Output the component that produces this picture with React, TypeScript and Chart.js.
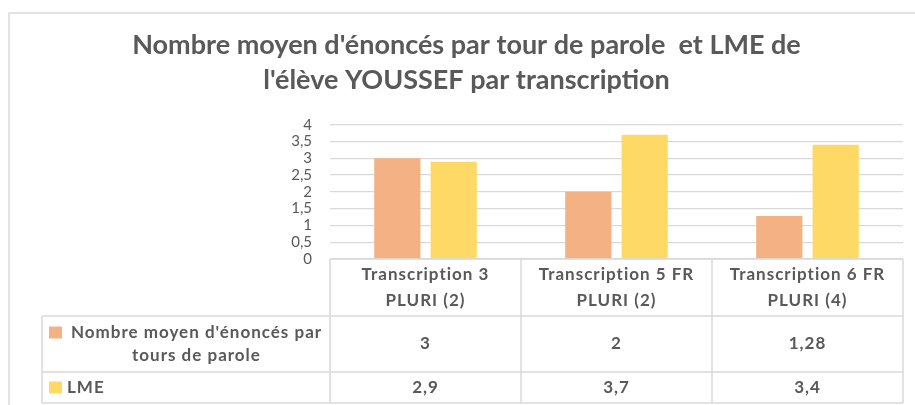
import React, { useEffect, useRef } from 'react';
import { Chart, registerables } from 'chart.js';

Chart.register(...registerables);

// ---------- data ----------
const categoryLines: string[][] = [
  ['Transcription 3', 'PLURI (2)'],
  ['Transcription 5 FR', 'PLURI (2)'],
  ['Transcription 6 FR', 'PLURI (4)'],
];
const categories: string[] = categoryLines.map((l) => l.join(' '));
const seriesNames: string[] = ["Nombre moyen d'énoncés par tours de parole", 'LME'];
const enoncesValues: number[] = [3, 2, 1.28];
const lmeValues: number[] = [2.9, 3.7, 3.4];
const yMin = 0;
const yMax = 4;
const yStep = 0.5;
const titleLines: string[] = [
  "Nombre moyen d'énoncés par tour de parole  et LME de",
  "l'élève YOUSSEF par transcription",
];

// ---------- styles ----------
const FONT = 'Lato';
const TEXT = '#595959';
const GRID = '#d9d9d9';
const COLORS = ['#F4B183', '#FFD966'];

const fmt = (v: number) => String(v).replace('.', ',');

const frameAndTablePlugin = {
  id: 'frameAndTable',
  beforeDraw(chart: any) {
    const ctx = chart.ctx;
    ctx.save();
    ctx.fillStyle = '#ffffff';
    ctx.fillRect(0, 0, chart.width, chart.height);
    ctx.strokeStyle = GRID;
    ctx.lineWidth = 1.5;
    ctx.strokeRect(9, 13, chart.width + 20, chart.height + 20);
    ctx.restore();
  },
  afterDraw(chart: any) {
    const ctx = chart.ctx;
    const area = chart.chartArea;
    const n = categories.length;
    const step = (area.right - area.left) / n;
    const cols: number[] = [];
    for (let i = 0; i <= n; i++) cols.push(area.left + i * step);
    const rTop = area.bottom;
    const r1 = rTop + 57;
    const r2 = r1 + 56;
    const r3 = r2 + 31;
    const tableLeft = 42;
    const rows = [r1, r2, r3];

    ctx.save();
    ctx.strokeStyle = GRID;
    ctx.lineWidth = 1.5;
    const line = (x1: number, y1: number, x2: number, y2: number) => {
      ctx.beginPath();
      ctx.moveTo(x1, y1);
      ctx.lineTo(x2, y2);
      ctx.stroke();
    };
    line(area.left, rTop, area.right, rTop);
    rows.forEach((y) => line(tableLeft, y, area.right, y));
    cols.forEach((x) => line(x, rTop, x, r3));
    line(tableLeft, r1, tableLeft, r3);

    ctx.fillStyle = TEXT;
    ctx.textBaseline = 'middle';
    ctx.textAlign = 'center';
    (ctx as any).letterSpacing = '1px';
    // header
    ctx.font = `bold 17px ${FONT}`;
    categoryLines.forEach((lines, i) => {
      const cx = (cols[i] + cols[i + 1]) / 2;
      const mid = (rTop + r1) / 2;
      const lh = 26;
      lines.forEach((t, j) => {
        ctx.fillText(t, cx, mid + (j - (lines.length - 1) / 2) * lh);
      });
    });
    // rows
    const rowBounds = [
      [r1, r2],
      [r2, r3],
    ];
    chart.data.datasets.forEach((ds: any, d: number) => {
      const [top, bottom] = rowBounds[d];
      const mid = (top + bottom) / 2;
      ctx.font = `bold 17px ${FONT}`;
      ctx.textAlign = 'center';
      ds.data.forEach((v: number, i: number) => {
        ctx.fillText(fmt(v), (cols[i] + cols[i + 1]) / 2, mid);
      });
      // label wrap
      const textLeft = 67;
      const textRight = cols[0] - 4;
      const maxW = textRight - textLeft;
      const words = String(ds.label).split(' ');
      const lines: string[] = [];
      let cur = '';
      words.forEach((w) => {
        const test = cur ? cur + ' ' + w : w;
        if (ctx.measureText(test).width > maxW && cur) {
          lines.push(cur);
          cur = w;
        } else cur = test;
      });
      if (cur) lines.push(cur);
      const lh = 23;
      const firstY = mid - ((lines.length - 1) / 2) * lh;
      lines.forEach((t, j) => {
        if (lines.length === 1) {
          ctx.textAlign = 'left';
          ctx.fillText(t, textLeft, firstY);
        } else {
          ctx.textAlign = 'center';
          ctx.fillText(t, (textLeft + textRight) / 2, firstY + j * lh);
        }
      });
      ctx.fillStyle = COLORS[d];
      ctx.fillRect(49, firstY - 6, 13, 12);
      ctx.fillStyle = TEXT;
    });
    ctx.restore();
  },
};

export default function App() {
  const ref = useRef<HTMLCanvasElement | null>(null);
  useEffect(() => {
    if (!ref.current) return;
    const chart = new Chart(ref.current, {
      type: 'bar',
      data: {
        labels: categories,
        datasets: [
          {
            label: seriesNames[0],
            data: enoncesValues,
            backgroundColor: COLORS[0],
            categoryPercentage: 0.59,
            barPercentage: 0.82,
          },
          {
            label: seriesNames[1],
            data: lmeValues,
            backgroundColor: COLORS[1],
            categoryPercentage: 0.59,
            barPercentage: 0.82,
          },
        ],
      },
      options: {
        responsive: false,
        animation: false,
        layout: { padding: { left: 30, right: 12, top: 0, bottom: 146 } },
        plugins: {
          legend: { display: false },
          tooltip: { enabled: false },
          title: {
            display: true,
            text: titleLines,
            color: TEXT,
            font: { family: FONT, size: 27, weight: 'bold', lineHeight: 1.3 },
            padding: { top: 27.5, bottom: 27 },
          },
        },
        scales: {
          x: { display: false },
          y: {
            min: yMin,
            max: yMax,
            border: { display: false },
            grid: { color: GRID, lineWidth: 1.3, drawTicks: false },
            ticks: {
              stepSize: yStep,
              autoSkip: false,
              padding: 18,
              color: TEXT,
              font: { family: FONT, size: 15, lineHeight: 1 },
              callback: (v: any) => fmt(Number(v)),
            },
            afterFit: (s: any) => {
              s.width = 300;
            },
          },
        },
      },
      plugins: [frameAndTablePlugin],
    });
    return () => chart.destroy();
  }, []);
  return (
    <div style={{ position: 'fixed', left: 0, top: 0, width: 915, height: 405 }}>
      <canvas ref={ref} width={915} height={405} style={{ display: 'block' }} />
    </div>
  );
}
